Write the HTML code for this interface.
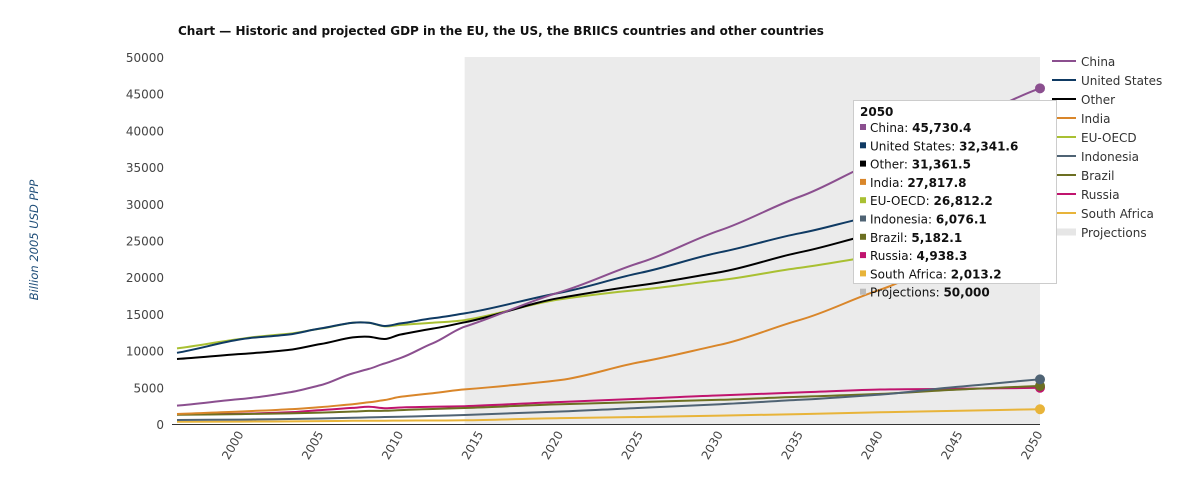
<!DOCTYPE html>
<html><head><meta charset="utf-8"><style>
body{margin:0;background:#fff;font-family:"DejaVu Sans","Liberation Sans",sans-serif}
</style></head><body>
<svg id="c" width="1188" height="483" xmlns="http://www.w3.org/2000/svg" font-family="DejaVu Sans, Liberation Sans, sans-serif"></svg>
<script>
const years=[1996,2000,2001,2003,2005,2007,2008,2009,2010,2012,2014,2020,2025,2030,2035,2040,2045,2050];
const seriesNames=["China","United States","Other","India","EU-OECD","Indonesia","Brazil","Russia","South Africa"];
const colors=["#8b4f8f","#0f3a63","#000000","#d9862a","#a9c032","#4f6374","#6c6f22","#c0146e","#e8b43a"];
const china=[2500,3400,3650,4300,5300,6900,7500,8260,9000,11000,13250,18000,22000,26400,31000,36000,41000,45730.4];
const us=[9700,11540,11800,12200,13030,13800,13800,13350,13700,14400,15070,17900,20600,23400,26000,28500,30500,32341.6];
const other=[8850,9530,9700,10100,10900,11800,11900,11580,12200,13000,13850,17200,18900,20700,23400,26100,28700,31361.5];
const india=[1360,1700,1800,2000,2300,2700,2950,3270,3700,4200,4720,6000,8450,10800,14200,18300,23000,27817.8];
const eu=[10300,11600,11900,12300,13000,13800,13800,13300,13500,13800,14160,17000,18300,19600,21300,23000,24900,26812.2];
const indo=[550,600,620,680,750,850,900,950,1000,1100,1230,1700,2200,2700,3300,4000,5100,6076.1];
const brazil=[1250,1350,1380,1450,1550,1700,1780,1800,1900,2050,2180,2700,3000,3300,3700,4100,4700,5182.1];
const russia=[1300,1400,1450,1600,1900,2200,2360,2150,2250,2350,2430,3000,3450,3900,4300,4700,4800,4938.3];
const safrica=[300,330,340,360,390,430,450,450,460,480,500,800,950,1150,1350,1600,1800,2013.2];
const allSeries=[china,us,other,india,eu,indo,brazil,russia,safrica];
const yTicks=[0,5000,10000,15000,20000,25000,30000,35000,40000,45000,50000];
const xTicks=[2000,2005,2010,2015,2020,2025,2030,2035,2040,2045,2050];
const projStart=2014, projValue=50000;

const NS="http://www.w3.org/2000/svg";
const svg=document.getElementById('c');
const X0=177,X1=1040,Y0=424,Y1=57;
const xs=y=>X0+(y-1996)/(2050-1996)*(X1-X0);
const ys=v=>Y0-v/50000*(Y0-Y1);
function el(t,a,p){const e=document.createElementNS(NS,t);for(const k in a)e.setAttribute(k,a[k]);(p||svg).appendChild(e);return e;}
function smooth(pts){
  let d='M'+pts[0][0].toFixed(1)+' '+pts[0][1].toFixed(1);
  for(let i=0;i<pts.length-1;i++){
    const p0=pts[Math.max(0,i-1)],p1=pts[i],p2=pts[i+1],p3=pts[Math.min(pts.length-1,i+2)];
    const dx=p2[0]-p1[0];
    const s1=(p2[1]-p0[1])/Math.max(1e-6,p2[0]-p0[0]);
    const s2=(p3[1]-p1[1])/Math.max(1e-6,p3[0]-p1[0]);
    const c1=[p1[0]+dx/3,p1[1]+s1*dx/3*0.8];
    const c2=[p2[0]-dx/3,p2[1]-s2*dx/3*0.8];
    d+=` C${c1[0].toFixed(1)} ${c1[1].toFixed(1)} ${c2[0].toFixed(1)} ${c2[1].toFixed(1)} ${p2[0].toFixed(1)} ${p2[1].toFixed(1)}`;
  }
  return d;
}

const t=el('text',{x:178,y:35,'font-size':12,'font-weight':'bold',fill:'#111'});t.textContent='Chart — Historic and projected GDP in the EU, the US, the BRIICS countries and other countries';



const pr=el('rect',{x:xs(projStart),y:ys(projValue),width:X1-xs(projStart),height:ys(0)-ys(projValue),fill:'#ebebeb'});



yTicks.forEach(v=>{const tx=el('text',{x:164,y:ys(v)+5,'font-size':12,fill:'#444','text-anchor':'end'});tx.textContent=v;

});
const ax=el('line',{x1:X0-5,x2:X1,y1:Y0+0.5,y2:Y0+0.5,stroke:'#333','stroke-width':1});


xTicks.forEach(y=>{const x=xs(y)+3;const tx=el('text',{x:x,y:434,'font-size':12,fill:'#444','text-anchor':'end',transform:`rotate(-60 ${x} 434)`});tx.textContent=y;

});
const yt=el('text',{x:38,y:240,'font-size':11.5,'font-style':'italic',fill:'#1f4e79','text-anchor':'middle',transform:'rotate(-90 38 240)'});yt.textContent='Billion 2005 USD PPP';



for(let s=allSeries.length-1;s>=0;s--){
  const pts=allSeries[s].map((v,i)=>[xs(years[i]),ys(v)]);
  const p=el('path',{d:smooth(pts),fill:'none',stroke:colors[s],'stroke-width':2,'stroke-linejoin':'round'});
  
  
  const last=allSeries[s].length-1;
  const m=el('circle',{cx:xs(years[last]),cy:ys(allSeries[s][last]),r:5,fill:colors[s]});
  
  
}

seriesNames.concat(['Projections']).forEach((n,i)=>{
  const y=61+i*19;
  const ln=el('line',{x1:1052,x2:1076,y1:y,y2:y,stroke:i<9?colors[i]:'#e6e6e6','stroke-width':i<9?2:7});
  
  
  const tx=el('text',{x:1081,y:y+5,'font-size':12,fill:'#333'});tx.textContent=n;
  
  
});

const g=el('g',{});


el('rect',{x:853.5,y:100.5,width:203,height:183,fill:'#fff',stroke:'#ccc'},g);
const h=el('text',{x:860,y:116,'font-size':12,'font-weight':'bold',fill:'#111'},g);h.textContent='2050';
const tipVals=allSeries.map(a=>a[a.length-1]).concat([projValue]);
const tipCols=colors.concat(['#bbb']);
seriesNames.concat(['Projections']).forEach((n,i)=>{
  const y=132+i*18.3;
  el('rect',{x:860,y:y-8,width:6,height:6,fill:tipCols[i]},g);
  const tx=el('text',{x:870,y:y,'font-size':12,fill:'#111'},g);
  const v=tipVals[i].toLocaleString('en-US',{minimumFractionDigits:i<9?1:0,maximumFractionDigits:1});
  tx.innerHTML=n+': <tspan font-weight="bold">'+v+'</tspan>';
});
</script>
</body></html>
